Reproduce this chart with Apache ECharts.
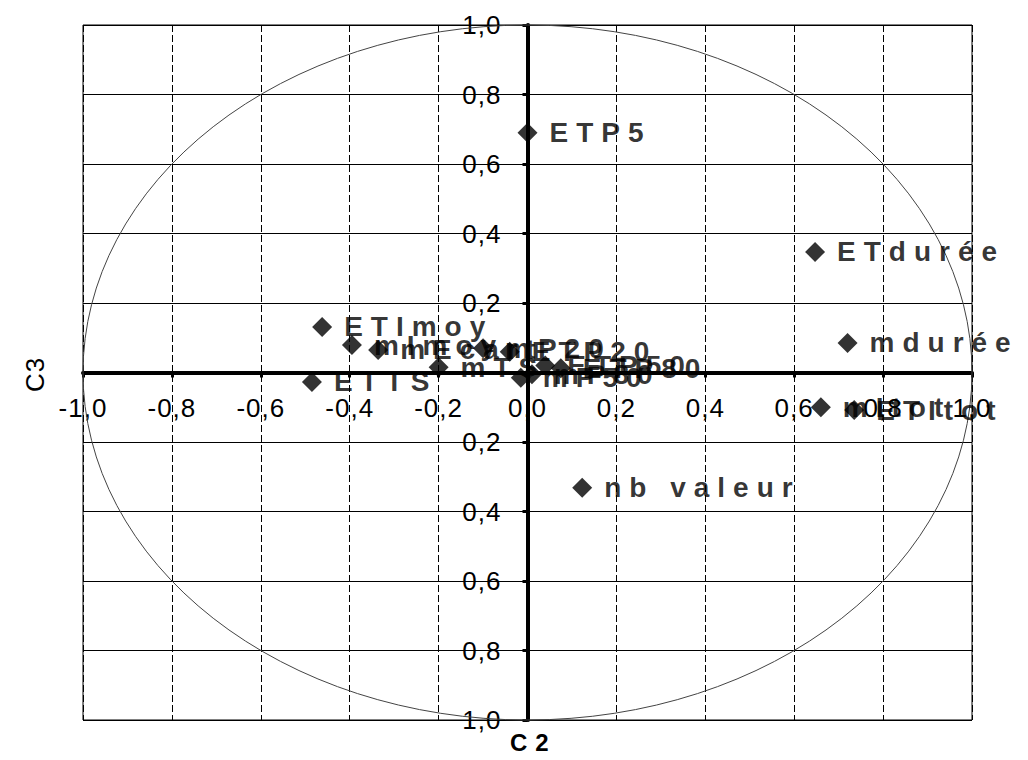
<!DOCTYPE html>
<html>
<head>
<meta charset="utf-8">
<script src="https://cdn.jsdelivr.net/npm/echarts@6/dist/echarts.min.js"></script>
<style>
  html, body { margin: 0; padding: 0; background: #fff; }
  #chart { width: 1028px; height: 760px; }
  #chart svg text { letter-spacing: 1px; }
  #chart svg text[style*="bold"] { letter-spacing: 8px; }
</style>
</head>
<body>
<div id="chart"></div>
<script>
// ---- data ----
const names = ["ETP5", "ETdurée", "mdurée", "mItot", "ETItot", "nb valeur",
               "ETImoy", "mImoy", "mEcart", "ETTS", "mTS", "mP20", "ETP20",
               "mP50", "ETP50", "ETP80", "mP80"];
const c2 = [0.00, 0.647, 0.72, 0.66, 0.735, 0.123,
            -0.462, -0.395, -0.336, -0.485, -0.20, -0.10, -0.04,
            -0.015, 0.04, 0.075, 0.01];
const c3 = [0.69, 0.347, 0.085, -0.10, -0.108, -0.332,
            0.131, 0.079, 0.065, -0.027, 0.015, 0.07, 0.06,
            -0.015, 0.02, 0.012, -0.005];
const axisMin = -1, axisMax = 1, axisStep = 0.2;
const xTitle = "C2", yTitle = "C3";

function fmt(v) { return v.toFixed(1).replace('.', ','); }

const W = 1028, H = 760;
const G = { left: 83, right: 56, top: 25, bottom: 40 };
const gridW = W - G.left - G.right, gridH = H - G.top - G.bottom;

const chart = echarts.init(document.getElementById('chart'), null, { renderer: 'svg' });
const FONT = "'Liberation Sans', Arial, sans-serif";

chart.setOption({
  animation: false,
  backgroundColor: '#fff',
  grid: Object.assign({ show: true, borderColor: '#000', borderWidth: 1 }, G),
  xAxis: {
    type: 'value', min: axisMin, max: axisMax, interval: axisStep,
    position: 'bottom', offset: -gridH / 2,
    axisLine: { onZero: false, lineStyle: { color: '#000', width: 4 } },
    axisTick: { show: true, inside: false, length: 5, lineStyle: { color: '#000', width: 3 } },
    axisLabel: { margin: 22, color: '#000', fontSize: 26, fontFamily: FONT, formatter: v => fmt(v) },
    splitLine: { show: true, lineStyle: { color: '#000', width: 1, type: [7, 3] } }
  },
  yAxis: {
    type: 'value', min: axisMin, max: axisMax, interval: axisStep,
    position: 'left', offset: -gridW / 2,
    axisLine: { onZero: false, lineStyle: { color: '#000', width: 4 } },
    axisTick: { show: true, length: 5, lineStyle: { color: '#000', width: 3 } },
    axisLabel: { margin: 26, color: '#000', fontSize: 26, fontFamily: FONT,
                 formatter: v => (Math.abs(v) < 1e-9 ? '' : fmt(Math.abs(v))) },
    splitLine: { show: true, lineStyle: { color: '#000', width: 1 } }
  },
  graphic: [
    { type: 'text', left: 510, top: 730, style: { text: xTitle, fontSize: 24, fontWeight: 'bold', fontFamily: FONT, fill: '#000' } },
    { type: 'text', x: 22, y: 392, rotation: Math.PI / 2, style: { text: yTitle, fontSize: 26, fontFamily: FONT, fill: '#000' } }
  ],
  series: [
    {
      type: 'custom', silent: true, clip: false, z: 1,
      data: [[0, 0]],
      renderItem: function (params, api) {
        const c = api.coord([0, 0]);
        const s = api.size([1, 1]);
        return {
          type: 'path',
          shape: {
            pathData: 'M0,50 A50,50 0 1,0 100,50 A50,50 0 1,0 0,50 Z',
            x: c[0] - s[0], y: c[1] - s[1], width: 2 * s[0], height: 2 * s[1], layout: 'cover'
          },
          style: { fill: 'none', stroke: '#444', lineWidth: 1 }
        };
      }
    },
    {
      type: 'scatter', z: 3,
      symbol: 'diamond', symbolSize: 20,
      itemStyle: { color: '#000' },
      label: {
        show: true, position: 'right', distance: 12, formatter: '{b}',
        color: '#000', fontSize: 28, fontWeight: 'bold', fontFamily: FONT
      },
      labelLayout: { hideOverlap: false },
      data: names.map((n, i) => ({ name: n, value: [c2[i], c3[i]] }))
    }
  ]
});
</script>
</body>
</html>
